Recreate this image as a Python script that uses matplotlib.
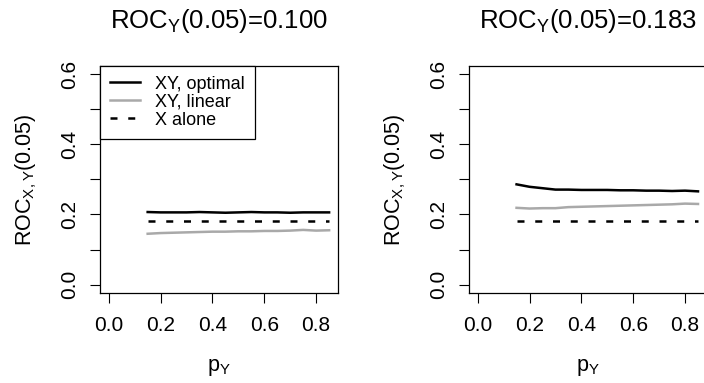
import matplotlib
matplotlib.use("Agg")
import matplotlib.pyplot as plt
import numpy as np

plt.rcParams['font.family'] = ['Liberation Sans', 'DejaVu Sans']
plt.rcParams['mathtext.default'] = 'regular'

# p_Y grid
p_y = [0.15, 0.20, 0.25, 0.30, 0.35, 0.40, 0.45, 0.50, 0.55, 0.60, 0.65, 0.70, 0.75, 0.80, 0.85]

titles = ["ROC$_Y$(0.05)=0.100", "ROC$_Y$(0.05)=0.183"]

# left panel: ROC_Y(0.05)=0.100
opt_left = [0.207, 0.206, 0.206, 0.206, 0.207, 0.206, 0.205, 0.206, 0.207, 0.206, 0.206, 0.205, 0.206, 0.206, 0.206]
lin_left = [0.145, 0.147, 0.148, 0.149, 0.150, 0.151, 0.151, 0.152, 0.152, 0.153, 0.153, 0.154, 0.156, 0.154, 0.155]
# right panel: ROC_Y(0.05)=0.183
opt_right = [0.286, 0.279, 0.275, 0.271, 0.271, 0.270, 0.270, 0.270, 0.269, 0.269, 0.268, 0.268, 0.267, 0.268, 0.266]
lin_right = [0.219, 0.217, 0.218, 0.218, 0.221, 0.222, 0.223, 0.224, 0.225, 0.226, 0.227, 0.228, 0.229, 0.231, 0.230]
x_alone = 0.182

legend_labels = ["XY, optimal", "XY, linear", "X alone"]

fig = plt.figure(figsize=(7.04, 3.83), dpi=100)
ax1 = fig.add_axes([0.142, 0.235, 0.338, 0.593])
ax2 = fig.add_axes([0.666, 0.235, 0.338, 0.593])

panels = [(ax1, opt_left, lin_left), (ax2, opt_right, lin_right)]
for i, (ax, opt, lin) in enumerate(panels):
    ax.plot(p_y, opt, color='black', lw=1.8, label=legend_labels[0])
    ax.plot(p_y, lin, color='#a9a9a9', lw=1.8, label=legend_labels[1])
    ax.plot(p_y, [x_alone] * len(p_y), color='black', lw=1.8,
            linestyle=(0, (2.8, 4.3)), label=legend_labels[2])

    ax.set_xlim(-0.034, 0.884)
    ax.set_ylim(-0.024, 0.624)
    ax.set_xticks([0.0, 0.2, 0.4, 0.6, 0.8])
    ax.set_xticklabels(["0.0", "0.2", "0.4", "0.6", "0.8"])
    ax.set_yticks([0.0, 0.1, 0.2, 0.3, 0.4, 0.5, 0.6])
    ax.set_yticklabels(["0.0", "", "0.2", "", "0.4", "", "0.6"],
                       rotation=90, va='center')
    ax.tick_params(direction='out', length=7.2, width=0.8, labelsize=15)
    ax.tick_params(axis='x', pad=9.5)
    ax.tick_params(axis='y', pad=7.6)
    for s in ax.spines.values():
        s.set_linewidth(0.9)

    ax.set_title(titles[i], fontsize=18.5, y=1.166, pad=0, va='baseline')
    ax.set_xlabel("p$_Y$", fontsize=15.5, va='center')
    ax.xaxis.set_label_coords(0.5, -0.326)
    ax.set_ylabel("ROC$_{X,Y}$(0.05)", fontsize=15.5, va='center')
    ax.yaxis.set_label_coords(-0.311, 0.5)

leg = ax1.legend(loc='upper left', borderaxespad=0, fancybox=False,
                 edgecolor='black', framealpha=1, fontsize=13,
                 handlelength=1.66, handletextpad=0.83, labelspacing=0.05,
                 borderpad=0.55)
leg.get_frame().set_linewidth(0.9)

fig.savefig("out.png", dpi=100)
